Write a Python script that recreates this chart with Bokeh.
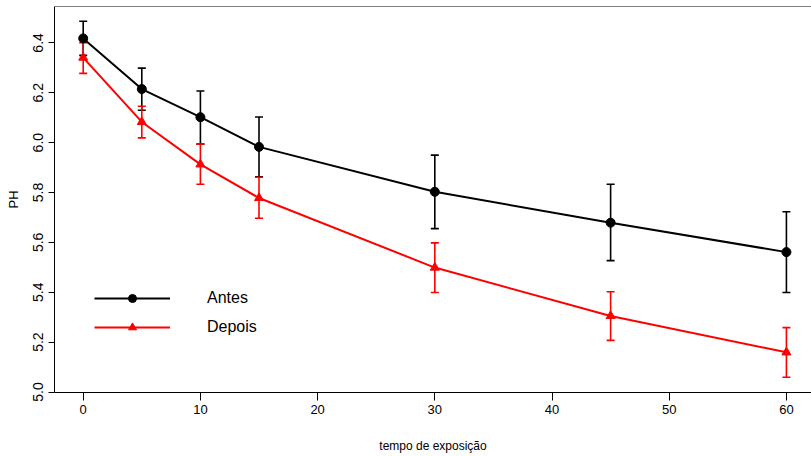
from bokeh.plotting import figure
from bokeh.models import (ColumnDataSource, Whisker, TeeHead, Legend, LegendItem,
                          FixedTicker, PrintfTickFormatter, Span, Range1d)
from bokeh.embed import file_html
from bokeh.resources import INLINE

# ---- data ----
tempo = [0, 5, 10, 15, 30, 45, 60]
antes = [6.418, 6.215, 6.102, 5.983, 5.803, 5.679, 5.561]
antes_sup = [6.487, 6.299, 6.207, 6.103, 5.950, 5.833, 5.723]
antes_inf = [6.350, 6.130, 5.994, 5.863, 5.655, 5.527, 5.399]
depois = [6.341, 6.083, 5.913, 5.778, 5.499, 5.305, 5.159]
depois_sup = [6.401, 6.146, 5.994, 5.861, 5.598, 5.402, 5.258]
depois_inf = [6.278, 6.019, 5.833, 5.697, 5.399, 5.207, 5.059]
x_ticks = [0, 10, 20, 30, 40, 50, 60]
y_ticks = [5.0, 5.2, 5.4, 5.6, 5.8, 6.0, 6.2, 6.4]
x_title = "tempo de exposição"
y_title = "PH"
series_names = ["Antes", "Depois"]

FONT = "Liberation Sans"
Y_TOP = 6.546

src_a = ColumnDataSource(dict(x=tempo, y=antes, up=antes_sup, lo=antes_inf))
src_d = ColumnDataSource(dict(x=tempo, y=depois, up=depois_sup, lo=depois_inf))

p = figure(width=811, height=456, output_backend="svg", toolbar_location=None,
           x_range=Range1d(-2.449, 62.14), y_range=Range1d(4.998, Y_TOP),
           min_border_left=54, min_border_right=0, min_border_top=6,
           min_border_bottom=64)
p.outline_line_color = None
p.grid.visible = False
p.background_fill_color = "white"
p.border_fill_color = "white"

# box top edge (right edge of the box lies outside the visible window in the reference)
p.add_layout(Span(location=Y_TOP, dimension="width", line_color="black", line_width=1))

# Antes
la = p.line("x", "y", source=src_a, line_color="black", line_width=2)
p.add_layout(Whisker(source=src_a, base="x", upper="up", lower="lo",
                     line_color="black", line_width=1.6,
                     upper_head=TeeHead(size=8, line_color="black", line_width=1.6),
                     lower_head=TeeHead(size=8, line_color="black", line_width=1.6)))
sa = p.scatter("x", "y", source=src_a, marker="circle", size=9,
               fill_color="black", line_color="black")

# Depois
ld = p.line("x", "y", source=src_d, line_color="red", line_width=2)
p.add_layout(Whisker(source=src_d, base="x", upper="up", lower="lo",
                     line_color="red", line_width=1.6,
                     upper_head=TeeHead(size=8, line_color="red", line_width=1.6),
                     lower_head=TeeHead(size=8, line_color="red", line_width=1.6)))
sd = p.scatter("x", "y", source=src_d, marker="triangle", size=9,
               fill_color="red", line_color="red")

# axes
xa = p.xaxis[0]
xa.ticker = FixedTicker(ticks=x_ticks)
xa.minor_tick_line_color = None
xa.major_tick_in = 0
xa.major_tick_out = 8
xa.major_label_standoff = 4
xa.major_label_text_font = FONT
xa.major_label_text_font_size = "13px"
xa.major_label_text_color = "black"
xa.axis_label = x_title
xa.axis_label_text_font = FONT
xa.axis_label_text_font_size = "12px"
xa.axis_label_text_font_style = "normal"
xa.axis_label_text_color = "black"
xa.axis_label_standoff = 22
xa.axis_line_color = "black"

ya = p.yaxis[0]
ya.ticker = FixedTicker(ticks=y_ticks)
ya.formatter = PrintfTickFormatter(format="%.1f")
ya.minor_tick_line_color = None
ya.major_tick_in = 0
ya.major_tick_out = 6
ya.major_label_standoff = 5
ya.major_label_orientation = "vertical"
ya.major_label_text_font = FONT
ya.major_label_text_font_size = "14px"
ya.major_label_text_color = "black"
ya.axis_label = y_title
ya.axis_label_text_font = FONT
ya.axis_label_text_font_size = "13px"
ya.axis_label_text_font_style = "normal"
ya.axis_label_text_color = "black"
ya.axis_label_standoff = 10
ya.axis_line_color = "black"

legend = Legend(items=[LegendItem(label=series_names[0], renderers=[la, sa]),
                       LegendItem(label=series_names[1], renderers=[ld, sd])],
                location=(40, 55), orientation="vertical",
                glyph_width=76, glyph_height=20, label_height=20, spacing=9,
                label_standoff=37, padding=0, margin=0,
                label_text_font=FONT, label_text_font_size="16px",
                label_text_color="black",
                border_line_color=None, background_fill_alpha=0)
p.add_layout(legend)

open("out.html", "w").write(file_html(p, INLINE))
